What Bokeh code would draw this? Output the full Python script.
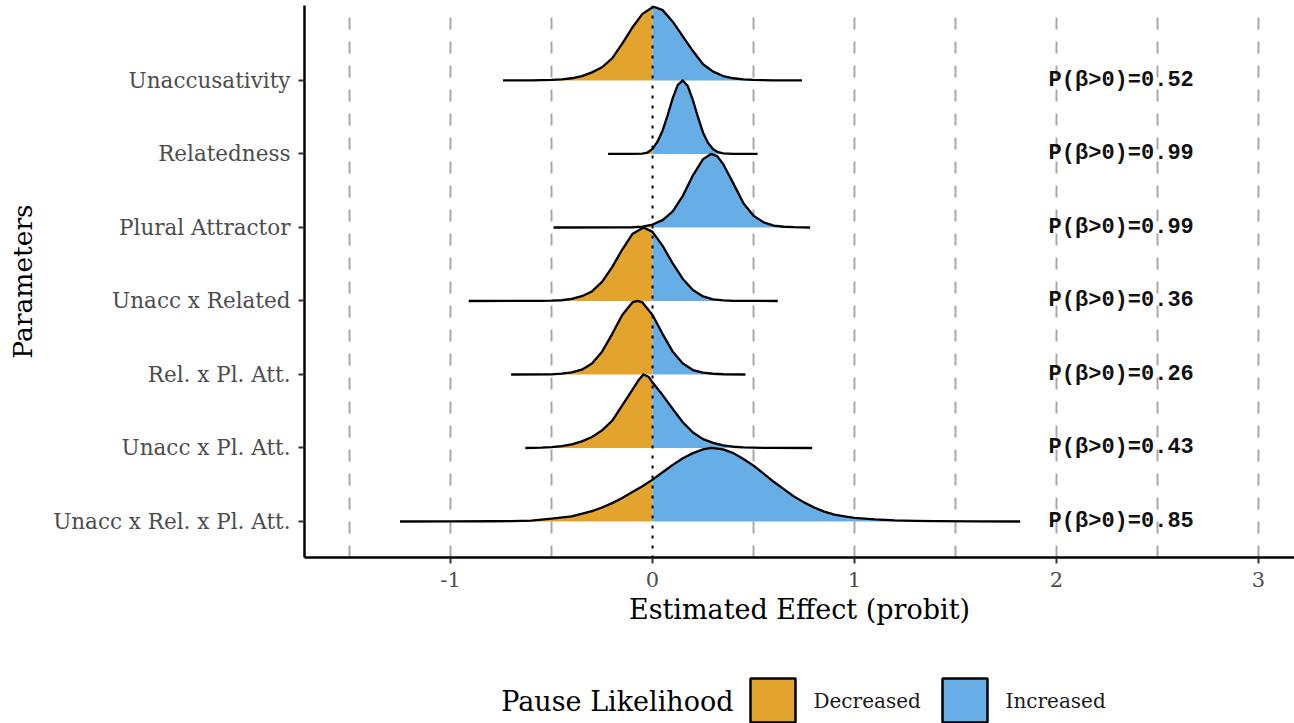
from bokeh.plotting import figure
from bokeh.models import Range1d, FixedTicker, Span
from bokeh.layouts import column
from bokeh.embed import file_html
from bokeh.resources import INLINE
from bokeh.core.properties import value

# Model parameters, top to bottom
parameters = [
    "Unaccusativity",
    "Relatedness",
    "Plural Attractor",
    "Unacc x Related",
    "Rel. x Pl. Att.",
    "Unacc x Pl. Att.",
    "Unacc x Rel. x Pl. Att.",
]
prob_positive = ["0.52", "0.99", "0.99", "0.36", "0.26", "0.43", "0.85"]

# Posterior densities: effect values (probit) and density height (row units)
unacc_x = [-0.74, -0.6, -0.5, -0.45, -0.4, -0.35, -0.3, -0.25, -0.2, -0.15, -0.1, -0.05,
           0.0, 0.01, 0.05, 0.1, 0.15, 0.2, 0.25, 0.3, 0.35, 0.4, 0.45, 0.5, 0.6, 0.74]
unacc_h = [0.0, 0.002, 0.008, 0.015, 0.03, 0.06, 0.11, 0.18, 0.30, 0.50, 0.72, 0.906,
           0.997, 1.0, 0.957, 0.80, 0.60, 0.40, 0.22, 0.12, 0.06, 0.03, 0.015, 0.008, 0.002, 0.0]

related_x = [-0.22, -0.1, -0.05, -0.025, 0.0, 0.025, 0.05, 0.075, 0.1, 0.125, 0.15, 0.175,
             0.2, 0.225, 0.25, 0.275, 0.3, 0.325, 0.35, 0.4, 0.52]
related_h = [0.0, 0.001, 0.005, 0.02, 0.07, 0.17, 0.32, 0.53, 0.76, 0.94, 1.0, 0.92,
             0.73, 0.50, 0.29, 0.15, 0.065, 0.025, 0.008, 0.002, 0.0]

plural_x = [-0.49, -0.15, -0.1, -0.05, 0.0, 0.05, 0.1, 0.15, 0.2, 0.25, 0.29, 0.32, 0.35,
            0.4, 0.45, 0.5, 0.55, 0.6, 0.65, 0.7, 0.78]
plural_h = [0.0, 0.001, 0.003, 0.012, 0.04, 0.10, 0.22, 0.43, 0.71, 0.93, 1.0, 0.97, 0.86,
            0.60, 0.33, 0.16, 0.07, 0.025, 0.01, 0.004, 0.0]

unacc_rel_x = [-0.91, -0.6, -0.55, -0.5, -0.45, -0.4, -0.35, -0.3, -0.25, -0.2, -0.15, -0.1,
               -0.045, 0.0, 0.05, 0.1, 0.15, 0.2, 0.25, 0.3, 0.35, 0.4, 0.62]
unacc_rel_h = [0.0, 0.001, 0.002, 0.004, 0.01, 0.03, 0.065, 0.13, 0.26, 0.46, 0.70, 0.91,
               1.0, 0.94, 0.75, 0.51, 0.30, 0.15, 0.062, 0.022, 0.007, 0.002, 0.0]

rel_pl_x = [-0.70, -0.5, -0.45, -0.4, -0.35, -0.3, -0.25, -0.2, -0.15, -0.1, -0.075, -0.05,
            0.0, 0.05, 0.1, 0.15, 0.2, 0.25, 0.3, 0.35, 0.46]
rel_pl_h = [0.0, 0.002, 0.012, 0.03, 0.065, 0.15, 0.31, 0.55, 0.81, 0.98, 1.0, 0.98,
            0.81, 0.55, 0.31, 0.15, 0.06, 0.025, 0.01, 0.003, 0.0]

unacc_pl_x = [-0.63, -0.55, -0.5, -0.45, -0.4, -0.35, -0.3, -0.25, -0.2, -0.15, -0.1, -0.07,
              -0.045, -0.02, 0.0, 0.05, 0.1, 0.15, 0.2, 0.25, 0.3, 0.35, 0.4, 0.45, 0.5, 0.6, 0.79]
unacc_pl_h = [0.0, 0.005, 0.012, 0.025, 0.05, 0.09, 0.15, 0.24, 0.37, 0.58, 0.79, 0.92,
              1.0, 0.97, 0.89, 0.72, 0.53, 0.35, 0.21, 0.12, 0.07, 0.035, 0.017, 0.008, 0.004, 0.001, 0.0]

three_way_x = [-1.25, -1.0, -0.8, -0.7, -0.6, -0.5, -0.4, -0.3, -0.25, -0.2, -0.15, -0.1, -0.05,
               0.0, 0.05, 0.1, 0.15, 0.2, 0.25, 0.29, 0.35, 0.4, 0.45, 0.5, 0.55, 0.6, 0.65,
               0.7, 0.75, 0.8, 0.85, 0.9, 0.95, 1.0, 1.1, 1.2, 1.3, 1.4, 1.6, 1.82]
three_way_h = [0.0, 0.001, 0.003, 0.006, 0.012, 0.04, 0.07, 0.14, 0.19, 0.25, 0.32, 0.40, 0.48,
               0.57, 0.67, 0.77, 0.86, 0.93, 0.98, 1.0, 0.98, 0.93, 0.85, 0.76, 0.65, 0.54, 0.44,
               0.34, 0.26, 0.19, 0.135, 0.093, 0.07, 0.05, 0.028, 0.014, 0.007, 0.004, 0.001, 0.0]

densities = [
    (unacc_x, unacc_h),
    (related_x, related_h),
    (plural_x, plural_h),
    (unacc_rel_x, unacc_rel_h),
    (rel_pl_x, rel_pl_h),
    (unacc_pl_x, unacc_pl_h),
    (three_way_x, three_way_h),
]

x_ticks = [-1, 0, 1, 2, 3]
grid_positions = [-1.5, -1, -0.5, 0.5, 1, 1.5, 2, 2.5, 3]

legend_title = "Pause Likelihood"
legend_labels = ["Decreased", "Increased"]
DECREASED = "#E2A42C"
INCREASED = "#66AEE5"
legend_colors = [DECREASED, INCREASED]

SERIF = "DejaVu Serif"
n = len(parameters)

FRAME_LEFT, FRAME_RIGHT = 304, 1294

p = figure(
    width=1294, height=650,
    x_range=Range1d(-1.723, 3.178), y_range=Range1d(0.51, 8.02),
    toolbar_location=None, output_backend="svg",
    min_border_left=FRAME_LEFT, min_border_right=1294 - FRAME_RIGHT,
    min_border_top=5, min_border_bottom=93,
)
p.outline_line_color = None
p.background_fill_color = "white"
p.border_fill_color = "white"

# vertical dashed reference grid
p.ygrid.grid_line_color = None
p.xgrid.ticker = FixedTicker(ticks=grid_positions)
p.xgrid.grid_line_color = "#a9a9a9"
p.xgrid.grid_line_width = 2
p.xgrid.grid_line_dash = "12 12"

# ridges, drawn top row first so lower rows overlap
for i, (xs, hs) in enumerate(densities):
    base = n - i
    neg_x = [x for x in xs if x <= 0]
    neg_y = [base + h for x, h in zip(xs, hs) if x <= 0]
    pos_x = [x for x in xs if x >= 0]
    pos_y = [base + h for x, h in zip(xs, hs) if x >= 0]
    p.varea(x=neg_x, y1=base, y2=neg_y, fill_color=DECREASED)
    p.varea(x=pos_x, y1=base, y2=pos_y, fill_color=INCREASED)
    p.line(xs, [base + h for h in hs], line_color="black", line_width=2.3,
           line_join="round")

zero_line = Span(location=0, dimension="height", line_color="black",
                 line_width=2, line_dash="3 7")
p.add_layout(zero_line)

p.text(
    x=[2.32] * n,
    y=[n - i for i in range(n)],
    text=[f"P(\u03b2>0)={v}" for v in prob_positive],
    text_font=value("Liberation Mono"),
    text_font_size="22px",
    text_font_style="bold",
    text_align="center",
    text_baseline="middle",
    text_color="#111111",
)

# axes
p.xaxis.ticker = FixedTicker(ticks=x_ticks, minor_ticks=[])
p.xaxis.major_label_overrides = {t: str(t) for t in x_ticks}
p.yaxis.ticker = FixedTicker(ticks=list(range(1, n + 1)), minor_ticks=[])
p.yaxis.major_label_overrides = {n - i: name for i, name in enumerate(parameters)}

for ax in (p.xaxis, p.yaxis):
    ax.axis_line_color = "black"
    ax.axis_line_width = 2.5
    ax.major_tick_line_color = "#333333"
    ax.major_tick_line_width = 2
    ax.major_tick_in = 0
    ax.major_tick_out = 6
    ax.minor_tick_line_color = None
    ax.major_label_text_font = SERIF
    ax.major_label_text_color = "#4d4d4d"
    ax.axis_label_text_font = SERIF
    ax.axis_label_text_font_style = "normal"
    ax.axis_label_text_color = "black"

p.xaxis.major_label_text_font_size = "21px"
p.yaxis.major_label_text_font_size = "21.5px"
p.xaxis.axis_label_text_font_size = "27px"
p.yaxis.axis_label_text_font_size = "26.5px"
p.xaxis.axis_label = "Estimated Effect (probit)"
p.yaxis.axis_label = "Parameters"
p.xaxis.major_label_standoff = 8
p.xaxis.axis_label_standoff = 4
p.yaxis.major_label_standoff = 8
p.yaxis.axis_label_standoff = 12

# legend strip; its frame shares the main plot's horizontal extent,
# so the x range is expressed in page pixels
leg = figure(
    width=1294, height=73,
    x_range=Range1d(FRAME_LEFT, FRAME_RIGHT), y_range=Range1d(0, 73),
    toolbar_location=None, output_backend="svg",
    x_axis_type=None, y_axis_type=None,
    min_border_left=FRAME_LEFT, min_border_right=1294 - FRAME_RIGHT,
    min_border_top=0, min_border_bottom=0,
)
leg.outline_line_color = None
leg.grid.visible = False
leg.rect(x=[772.5, 964.5], y=[23, 23], width=45, height=44,
         fill_color=legend_colors, line_color="black", line_width=2.5)
leg.text(x=[813, 1005], y=[23, 23], text=legend_labels,
         text_font=value(SERIF), text_font_size="20px",
         text_align="left", text_baseline="middle", text_color="#1a1a1a")
leg.text(x=[733], y=[22], text=[legend_title],
         text_font=value(SERIF), text_font_size="27px",
         text_align="right", text_baseline="middle", text_color="black")

layout = column(p, leg, spacing=0)
open("out.html", "w").write(file_html(layout, INLINE))
